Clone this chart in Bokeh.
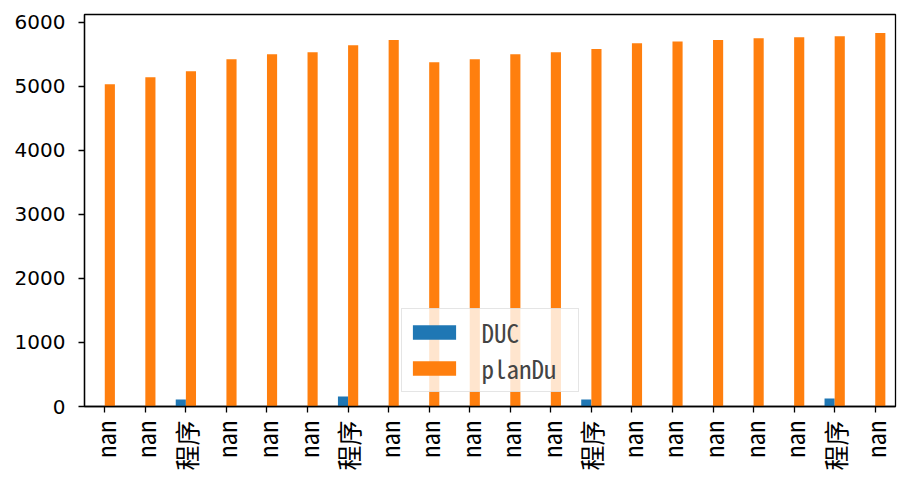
import math
from bokeh.plotting import figure
from bokeh.models import ColumnDataSource, Range1d, FixedTicker, Legend
from bokeh.transform import dodge
from bokeh.embed import file_html
from bokeh.resources import INLINE

labels = ["nan", "nan", "程序", "nan", "nan", "nan", "程序", "nan", "nan", "nan",
          "nan", "nan", "程序", "nan", "nan", "nan", "nan", "nan", "程序", "nan"]
nan = float("nan")
duc = [nan, nan, 110, nan, nan, nan, 155, nan, nan, nan,
       nan, nan, 110, nan, nan, nan, nan, nan, 125, nan]
plan_du = [5030, 5140, 5235, 5420, 5500, 5530, 5640, 5720, 5375, 5420,
           5500, 5530, 5580, 5670, 5700, 5720, 5750, 5765, 5780, 5830]

xs = list(range(len(labels)))
src = ColumnDataSource(dict(x=xs, duc=duc, plan=plan_du))

p = figure(width=897, height=481, x_range=Range1d(-0.5, len(labels) - 0.5),
           y_range=Range1d(0, 6120), output_backend="svg", toolbar_location=None,
           min_border_left=84, min_border_right=2, min_border_top=14, min_border_bottom=75)

r1 = p.vbar(x=dodge("x", -0.125), top="duc", width=0.25, source=src,
            color="#1f77b4", line_color=None)
r2 = p.vbar(x=dodge("x", 0.125), top="plan", width=0.25, source=src,
            color="#ff7f0e", line_color=None)

legend = Legend(items=[("DUC", [r1]), ("planDu", [r2])], location="bottom_center")
legend.margin = 14
legend.padding = 5
legend.spacing = 0
legend.glyph_width = 54
legend.glyph_height = 18
legend.label_standoff = 21
legend.label_width = 91
legend.label_text_font = "Noto Sans Mono CJK SC, Noto Sans CJK SC"
legend.label_text_font_size = "25px"
legend.background_fill_alpha = 0.8
legend.border_line_color = "#cccccc"
legend.border_line_width = 1.5
p.add_layout(legend, "center")

p.xgrid.visible = False
p.ygrid.visible = False
p.outline_line_color = "black"
p.outline_line_width = 1.3
p.outline_line_alpha = 1

p.xaxis.ticker = FixedTicker(ticks=xs)
p.xaxis.major_label_overrides = {i: lab for i, lab in zip(xs, labels)}
p.xaxis.major_label_orientation = math.pi / 2
p.xaxis.major_label_text_font = "Noto Sans Mono CJK SC, Noto Sans CJK SC"
p.xaxis.major_label_text_font_size = "25px"
p.yaxis.ticker = FixedTicker(ticks=[0, 1000, 2000, 3000, 4000, 5000, 6000])
p.yaxis.major_label_text_font = "DejaVu Sans"
p.yaxis.major_label_text_font_size = "20px"
for ax in (p.xaxis, p.yaxis):
    ax.minor_tick_line_color = None
    ax.major_tick_out = 6
    ax.major_tick_in = 0
    ax.major_tick_line_width = 1.3
    ax.axis_line_width = 1.3
    ax.axis_line_color = "black"
    ax.major_label_text_color = "black"
p.yaxis.major_label_standoff = 13
p.xaxis.major_label_standoff = 8

open("out.html", "w").write(file_html(p, INLINE))
